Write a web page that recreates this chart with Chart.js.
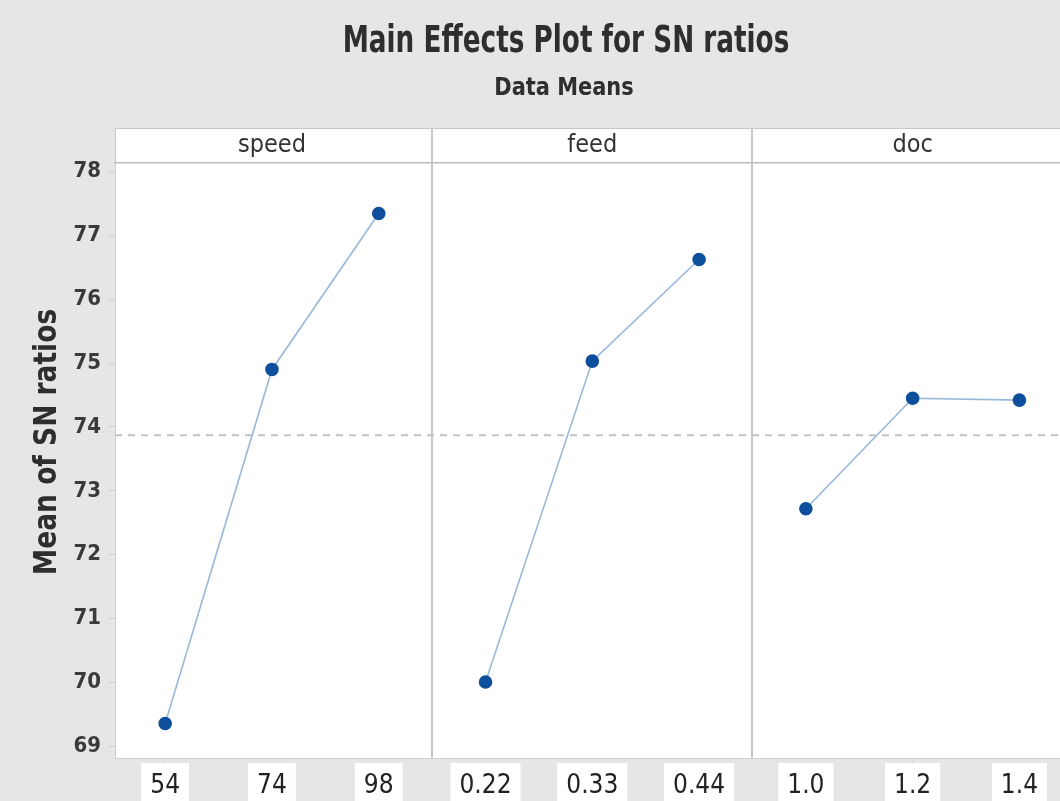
<!DOCTYPE html>
<html><head><meta charset="utf-8">
<script src="https://cdn.jsdelivr.net/npm/chart.js@4.4.1/dist/chart.umd.min.js"></script>
<style>html,body{margin:0;padding:0;background:#e6e6e6;} canvas{display:block;}</style>
</head><body>
<canvas id="c" width="1060" height="801"></canvas>
<script>
// ---- data ----
const titleText = 'Main Effects Plot for SN ratios';
const subtitleText = 'Data Means';
const yAxisTitle = 'Mean of SN ratios';
const factorNames = ['speed', 'feed', 'doc'];
const speedLevels = ['54', '74', '98'];
const feedLevels = ['0.22', '0.33', '0.44'];
const docLevels = ['1.0', '1.2', '1.4'];
const speedMeans = [69.36, 74.90, 77.34];
const feedMeans = [70.01, 75.03, 76.62];
const docMeans = [72.72, 74.45, 74.42];
const overallMean = 73.87;
const yTickValues = [69, 70, 71, 72, 73, 74, 75, 76, 77, 78];

// ---- derived structures for the library ----
const levelLabels = [...speedLevels, ...feedLevels, ...docLevels];
const factorMeans = [speedMeans, feedMeans, docMeans];
const levelPositions = levelLabels.map((_, i) => i);
const dividerPositions = [2.5, 5.5];
const stripPositions = [1, 4, 7];
const X_MIN = -0.47, X_MAX = 8.38;
const Y_MIN = 68.82, Y_MAX = 78.13;
const NARROW = '"Liberation Sans Narrow", "DejaVu Sans Condensed", "Open Sans", sans-serif';
const isDivider = v => dividerPositions.includes(v);
const isLevel = v => Number.isInteger(v) && v >= 0 && v < levelLabels.length;
const noSidePadding = s => { s.paddingLeft = 0; s.paddingRight = 0; };

const datasets = factorMeans.map((vals, f) => ({
  label: factorNames[f],
  data: vals.map((v, j) => ({ x: f * 3 + j, y: v })),
  borderColor: '#98b8dc',
  borderWidth: 1.6,
  pointRadius: 6,
  pointBackgroundColor: '#0d4f9c',
  pointBorderColor: '#0d4f9c',
  tension: 0,
  order: 0
}));
datasets.push({
  label: 'mean',
  data: [{ x: X_MIN, y: overallMean }, { x: X_MAX, y: overallMean }],
  borderColor: '#c2c2c2',
  borderWidth: 2,
  borderDash: [7, 6],
  pointRadius: 0,
  order: 10
});

function drawSqueezed(ctx, text, x, y, sx) {
  ctx.save();
  ctx.translate(x, y);
  ctx.scale(sx, 1);
  ctx.fillText(text, 0, 0);
  ctx.restore();
}

const panelPlugin = {
  id: 'panel',
  beforeDraw(chart) {
    const { ctx, chartArea: a, scales } = chart;
    const top = scales.xTop.top;
    ctx.save();
    ctx.fillStyle = '#e6e6e6';
    ctx.fillRect(0, 0, chart.width, chart.height);
    ctx.fillStyle = '#ffffff';
    ctx.fillRect(a.left, top, a.right - a.left, a.bottom - top);
    ctx.strokeStyle = '#c8c8c8';
    ctx.lineWidth = 1;
    ctx.strokeRect(a.left + 0.5, top + 0.5, a.right - a.left, a.bottom - top);
    ctx.restore();
  },
  afterDraw(chart) {
    const { ctx } = chart;
    ctx.save();
    ctx.fillStyle = '#2e2e2e';
    ctx.textAlign = 'center';
    ctx.textBaseline = 'middle';
    ctx.font = 'bold 37px ' + NARROW;
    drawSqueezed(ctx, titleText, 566, 42, 0.79);
    ctx.font = 'bold 25px ' + NARROW;
    drawSqueezed(ctx, subtitleText, 564, 88, 0.93);
    ctx.translate(48, 442);
    ctx.rotate(-Math.PI / 2);
    ctx.font = 'bold 32px ' + NARROW;
    drawSqueezed(ctx, yAxisTitle, 0, 0, 0.92);
    ctx.restore();
  }
};

new Chart(document.getElementById('c'), {
  type: 'line',
  data: { datasets },
  plugins: [panelPlugin],
  options: {
    responsive: false,
    animation: false,
    layout: { autoPadding: false, padding: { top: 128, left: 0, right: 0, bottom: 0 } },
    plugins: { legend: { display: false }, tooltip: { enabled: false }, title: { display: false } },
    scales: {
      x: {
        type: 'linear', position: 'bottom', min: X_MIN, max: X_MAX,
        afterBuildTicks: s => { s.ticks = [...levelPositions, ...dividerPositions].sort((a, b) => a - b).map(v => ({ value: v })); },
        afterFit: s => { s.height = 43; noSidePadding(s); },
        grid: {
          color: c => (c.tick && isDivider(c.tick.value)) ? '#c9c9c9' : 'rgba(0,0,0,0)',
          tickColor: c => (c.tick && isDivider(c.tick.value)) ? 'rgba(0,0,0,0)' : '#d5d5d5',
          lineWidth: 2, tickWidth: 1, tickLength: 5
        },
        border: { color: '#cfcfcf', width: 1 },
        ticks: {
          autoSkip: false, maxRotation: 0, minRotation: 0,
          callback: v => isLevel(v) ? levelLabels[v] : '',
          font: { family: NARROW, size: 26 }, color: '#222', padding: 8,
          showLabelBackdrop: c => !!(c.tick && isLevel(c.tick.value)),
          backdropColor: '#ffffff',
          backdropPadding: { top: 8, bottom: 14, left: 9, right: 9 }
        }
      },
      xTop: {
        type: 'linear', position: 'top', min: X_MIN, max: X_MAX,
        afterBuildTicks: s => { s.ticks = [...stripPositions, ...dividerPositions].sort((a, b) => a - b).map(v => ({ value: v })); },
        afterFit: s => { s.height = 35; noSidePadding(s); },
        grid: {
          drawOnChartArea: false, tickLength: 35, lineWidth: 2,
          tickColor: c => (c.tick && isDivider(c.tick.value)) ? '#c9c9c9' : 'rgba(0,0,0,0)'
        },
        border: { color: '#bdbdbd', width: 1.5 },
        ticks: {
          autoSkip: false, maxRotation: 0, minRotation: 0,
          callback: v => { const k = stripPositions.indexOf(v); return k >= 0 ? factorNames[k] : ''; },
          font: { family: NARROW, size: 25 }, color: '#333', padding: -32
        }
      },
      y: {
        type: 'linear', min: Y_MIN, max: Y_MAX,
        afterBuildTicks: s => { s.ticks = yTickValues.map(v => ({ value: v })); },
        afterFit: s => { s.width = 115; },
        grid: { drawOnChartArea: false, tickLength: 6, tickColor: '#cfcfcf' },
        border: { color: '#cfcfcf', width: 1 },
        ticks: { font: { family: NARROW, size: 22, weight: 'bold' }, color: '#3a3a3a', padding: 8 }
      }
    }
  }
});
</script>
</body></html>
